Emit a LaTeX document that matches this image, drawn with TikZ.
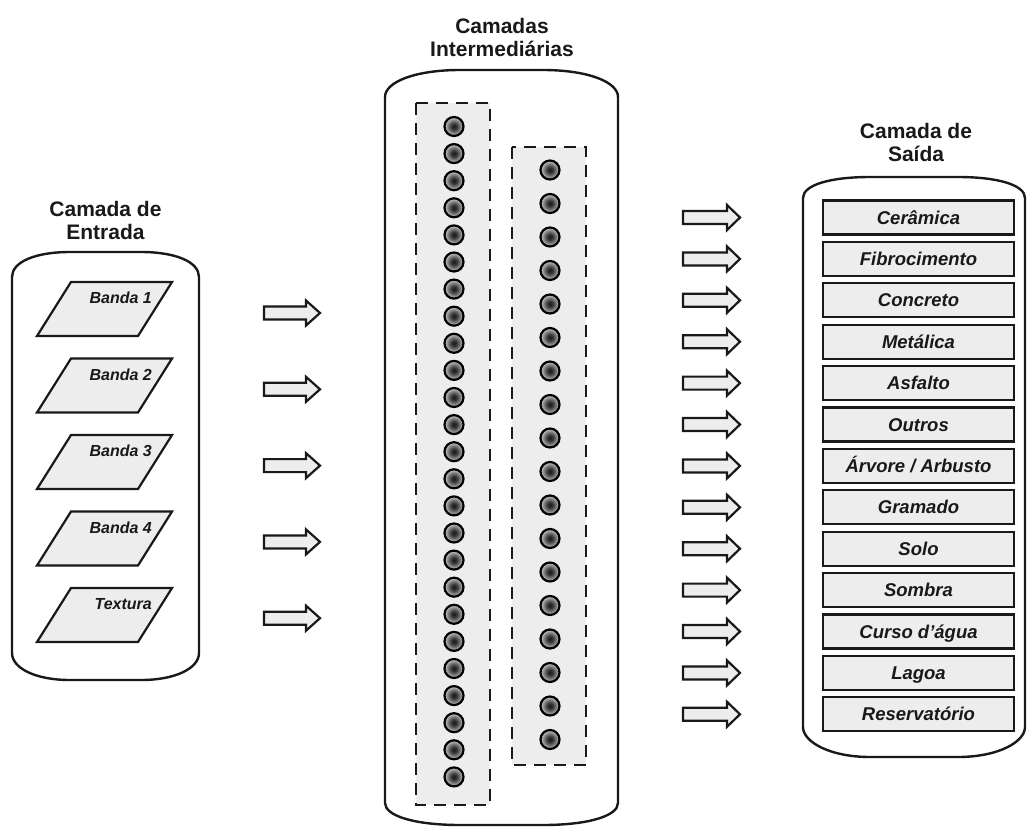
\documentclass[tikz,border=0pt]{standalone}
\usepackage{fontspec}
\setmainfont{Liberation Sans}
\pgfdeclareradialshading{neuronshade}{\pgfpoint{0bp}{0bp}}{color(0bp)=(black!90); color(7bp)=(black!80); color(18bp)=(black!45); color(30bp)=(white); color(50bp)=(white)}
\begin{document}
\begin{tikzpicture}[x=1pt,y=-1pt,
  container/.style={draw=black!90, line width=2.4pt, fill=white},
  titletext/.style={font=\fontsize{21}{23}\selectfont\bfseries, align=center, text=black!90, inner sep=0pt},
  parbox/.style={draw=black!90, line width=2.2pt, fill=black!7, line join=miter},
  inlabel/.style={font=\fontsize{16}{18}\selectfont\bfseries\itshape, inner sep=0pt, text=black!90},
  outbox/.style={draw=black!90, line width=2.2pt, fill=black!7, minimum width=191pt, minimum height=34pt, inner sep=0pt,
    font=\fontsize{18.5}{20}\selectfont\bfseries\itshape, text=black!90, text height=16.5pt, text depth=3.5pt},
  neuron/.style={circle, draw=black, line width=2.2pt, minimum size=19pt, inner sep=0pt, shading=neuronshade},
  dashbox/.style={draw=black!90, dash pattern=on 12pt off 8pt, line width=2.6pt, fill=black!7},
  barrow/.style={draw=black!90, line width=2.2pt, fill=black!7, line join=miter}
]
\useasboundingbox (0,0) rectangle (1027,827);

% ---------- titles ----------
\node[titletext] (t1) at (105.5,220) {Camada de\\Entrada};
\node[titletext] (t2) at (502,37) {Camadas\\Intermediárias};
\node[titletext] (t3) at (916,142) {Camada de\\Saída};

% ---------- containers ----------
% input
\draw[container] (12,653) -- (12,277) .. controls (12,262) and (35,252) .. (70,252) -- (141,252)
  .. controls (176,252) and (199,262) .. (199,277) -- (199,653)
  .. controls (199,668) and (176,680) .. (141,680) -- (70,680)
  .. controls (35,680) and (12,668) .. (12,653) -- cycle;
% hidden
\draw[container] (385,803) -- (385,97) .. controls (385,82) and (415,70) .. (460,70) -- (543,70)
  .. controls (588,70) and (618,82) .. (618,97) -- (618,803)
  .. controls (618,816) and (588,825) .. (543,825) -- (460,825)
  .. controls (415,825) and (385,816) .. (385,803) -- cycle;
% output
\draw[container] (803,727) -- (803,198) .. controls (803,185) and (830,177) .. (870,177) -- (958,177)
  .. controls (998,177) and (1025,185) .. (1025,198) -- (1025,727)
  .. controls (1025,742) and (998,757) .. (958,757) -- (870,757)
  .. controls (830,757) and (803,742) .. (803,727) -- cycle;

% ---------- input parallelograms ----------
\foreach \t [count=\i] in {Banda 1, Banda 2, Banda 3, Banda 4, Textura}{
  \pgfmathsetmacro{\yt}{282+(\i-1)*76.5}
  \draw[parbox] (37,\yt+54) -- (71,\yt) -- (172,\yt) -- (138,\yt+54) -- cycle;
  \node[inlabel, anchor=east] (in\i) at (152,\yt+16) {\t};
}

% ---------- left block arrows ----------
\foreach \i in {0,...,4}{
  \pgfmathsetmacro{\ya}{313+\i*76.3}
  \draw[barrow] (264,\ya-6.5) -- (306,\ya-6.5) -- (306,\ya-12.5) -- (320,\ya) -- (306,\ya+12.5) -- (306,\ya+6.5) -- (264,\ya+6.5) -- cycle;
}

% ---------- hidden layers ----------
\draw[dashbox] (416,103) rectangle (490,805);
\draw[dashbox] (512,147) rectangle (586,765);
\foreach \i in {1,...,25}{
  \node[neuron] (a\i) at (454,{126.5+(\i-1)*27.1}) {};
}
\foreach \i in {1,...,18}{
  \node[neuron] (b\i) at (550,{170+(\i-1)*33.5}) {};
}

% ---------- right block arrows ----------
\foreach \i in {0,...,12}{
  \pgfmathsetmacro{\ya}{217.5+\i*41.4}
  \draw[barrow] (683,\ya-6.5) -- (727,\ya-6.5) -- (727,\ya-12.5) -- (740,\ya) -- (727,\ya+12.5) -- (727,\ya+6.5) -- (683,\ya+6.5) -- cycle;
}

% ---------- output boxes ----------
\foreach \t [count=\i] in {Cerâmica, Fibrocimento, Concreto, Metálica, Asfalto, Outros, {Árvore / Arbusto}, Gramado, Solo, Sombra, {Curso d’água}, Lagoa, Reservatório}{
  \node[outbox] (out\i) at (918.5,{217.5+(\i-1)*41.4}) {\t};
}
\end{tikzpicture}
\end{document}
